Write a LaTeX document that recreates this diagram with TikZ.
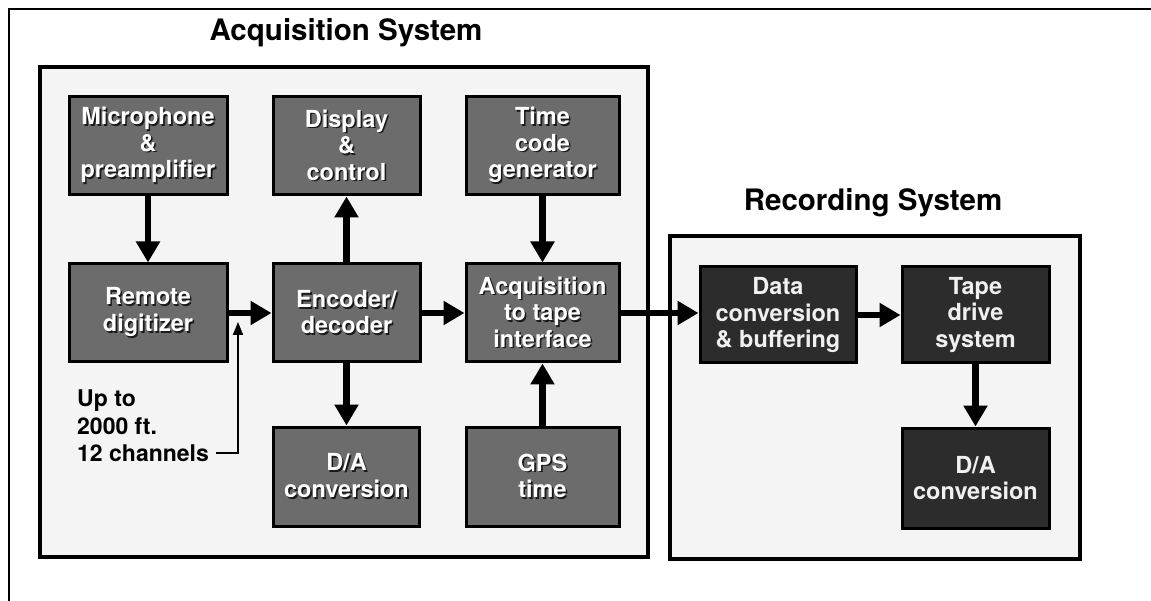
\documentclass[tikz,border=0pt]{standalone}
\usepackage{fontspec}
\setmainfont{TeX Gyre Heros}
\usetikzlibrary{arrows.meta}
\definecolor{acqfill}{HTML}{6C6C6C}
\definecolor{recfill}{HTML}{2C2C2C}
\definecolor{panelbg}{HTML}{F4F4F4}
\newcommand\shtxt[1]{\makebox[0pt][l]{\kern1.6pt\raisebox{-1.6pt}{\color{black!90}#1}}#1}
\tikzset{
  panel/.style={draw=black, line width=4pt, fill=panelbg, inner sep=0pt},
  acqbox/.style={draw=black, line width=3pt, fill=acqfill, text=white, inner sep=0pt,
    align=center, font=\bfseries\fontsize{23.5}{26.5}\selectfont},
  recbox/.style={draw=black, line width=3pt, fill=recfill, text=white!94!black, inner sep=0pt,
    align=center, font=\bfseries\fontsize{23.5}{26.5}\selectfont},
  title/.style={font=\bfseries\fontsize{29.5}{32}\selectfont, inner sep=0pt},
  arr/.style={line width=6.5pt, -{Triangle[width=23pt,length=21pt]}},
  thinarr/.style={line width=1.8pt, -{Triangle[width=10pt,length=13pt]}},
}
\begin{document}
\begin{tikzpicture}[x=1pt,y=-1pt]
\useasboundingbox[fill=white] (0,0) rectangle (1151,601);
% outer frame (top and left edges visible)
\draw[line width=2.5pt] (1151,9) -- (9,9) -- (9,601);

% panels
\node[panel, minimum width=608pt, minimum height=490pt] (acqsys) at (344,312) {};
\node[panel, minimum width=410pt, minimum height=323pt] (recsys) at (875,397.5) {};
\node[title] (acqtitle) at (346,33) {Acquisition System};
\node[title] (rectitle) at (873,203) {Recording System};

% acquisition boxes
\node[acqbox, minimum width=158pt, minimum height=98pt] (mic) at (148,146)
  {\shtxt{Microphone}\\\shtxt{\&}\\\shtxt{preamplifier}};
\node[acqbox, minimum width=147pt, minimum height=98pt] (disp) at (346.5,146)
  {\shtxt{Display}\\\shtxt{\&}\\\shtxt{control}};
\node[acqbox, minimum width=153pt, minimum height=98pt] (time) at (542.5,146)
  {\shtxt{Time}\\\shtxt{code}\\\shtxt{generator}};
\node[acqbox, minimum width=158pt, minimum height=98pt] (remote) at (148,313)
  {\shtxt{Remote}\\\shtxt{digitizer}};
\node[acqbox, minimum width=147pt, minimum height=98pt] (enc) at (346.5,313)
  {\shtxt{Encoder/}\\\shtxt{decoder}};
\node[acqbox, minimum width=153pt, minimum height=98pt] (acq) at (542.5,313)
  {\shtxt{Acquisition}\\\shtxt{to tape}\\\shtxt{interface}};
\node[acqbox, minimum width=146pt, minimum height=99pt] (da1) at (346.5,476.5)
  {\shtxt{D/A}\\\shtxt{conversion}};
\node[acqbox, minimum width=153pt, minimum height=99pt] (gps) at (542.5,476.5)
  {\shtxt{GPS}\\\shtxt{time}};

% recording boxes
\node[recbox, minimum width=156pt, minimum height=96pt] (data) at (778,315)
  {Data\\conversion\\\& buffering};
\node[recbox, minimum width=147pt, minimum height=96pt] (tape) at (975.5,315)
  {Tape\\drive\\system};
\node[recbox, minimum width=147pt, minimum height=100pt] (da2) at (975.5,478)
  {D/A\\conversion};

% note
\node[align=left, anchor=west, inner sep=0pt, font=\bfseries\fontsize{23}{27.5}\selectfont] (note) at (77,426)
  {Up to\\2000 ft.\\12 channels};

% connectors
\draw[arr] (mic.south) -- (remote.north);
\draw[arr] (remote.east) -- (enc.west);
\draw[arr] (enc.north) -- (disp.south);
\draw[arr] (enc.south) -- (da1.north);
\draw[arr] (enc.east) -- (acq.west);
\draw[arr] (time.south) -- (acq.north);
\draw[arr] (gps.north) -- (acq.south);
\draw[arr] (acq.east) -- (acq.east -| data.west);
\draw[arr] (data.east) -- (tape.west);
\draw[arr] (tape.south) -- (da2.north);

\coordinate (chanend) at (216,453);
\coordinate (feedtip) at (238,322);
\draw[thinarr] (chanend) -| (feedtip);
\end{tikzpicture}
\end{document}
